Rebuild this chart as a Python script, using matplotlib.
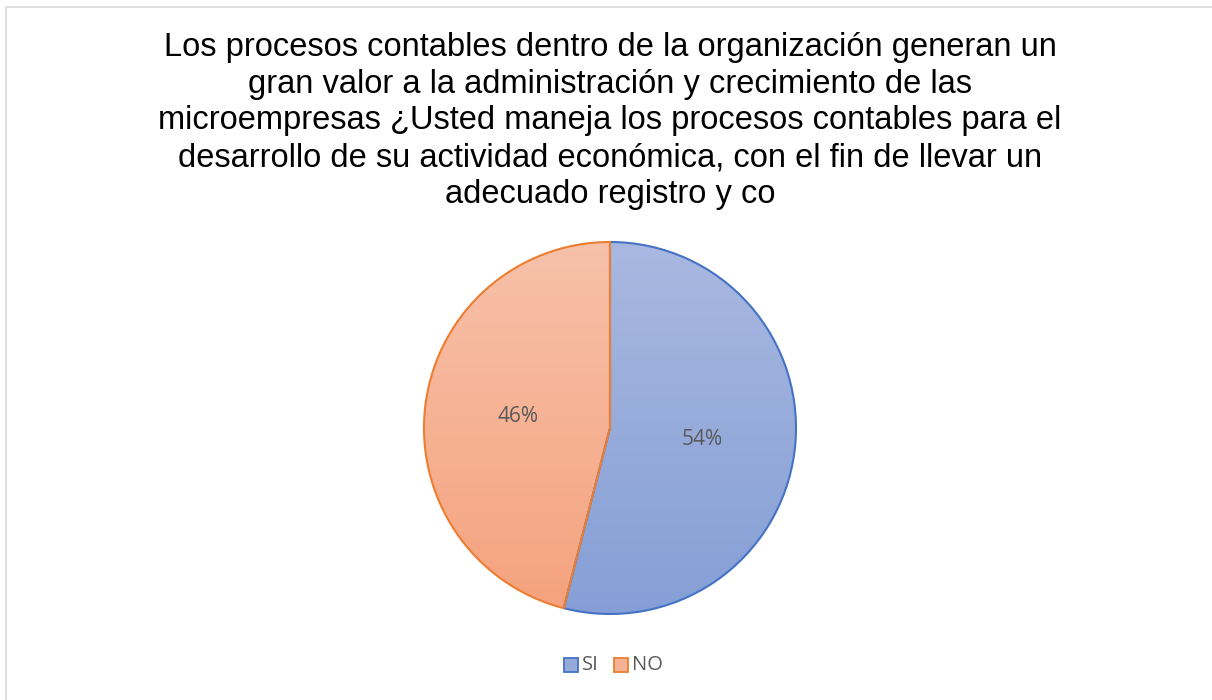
import numpy as np
import matplotlib
matplotlib.use("Agg")
import matplotlib.pyplot as plt
from matplotlib.patches import Wedge, Rectangle
from matplotlib.colors import LinearSegmentedColormap

title_lines = [
    "Los procesos contables dentro de la organización generan un",
    "gran valor a la administración y crecimiento de las",
    "microempresas ¿Usted maneja los procesos contables para el",
    "desarrollo de su actividad económica, con el fin de llevar un",
    "adecuado registro y co",
]
categories = ["SI", "NO"]
values = [54, 46]
labels = ["54%", "46%"]

edge_colors = ["#4472C4", "#ED7D31"]
grad_top = ["#A9B8E0", "#F7C1AA"]
grad_bot = ["#859FD6", "#F5A27D"]

W, H = 1212, 700
fig = plt.figure(figsize=(W / 100, H / 100), dpi=100)
fig.patch.set_facecolor("white")

# chart border
fig.add_artist(Rectangle((5.5 / W, -0.01), 1.2, (H - 6.5) / H + 0.01,
                         transform=fig.transFigure, fill=False,
                         edgecolor="#D9D9D9", linewidth=1.2))

cx, cy, R = 610, 428, 186
pad = 1.05
ax = fig.add_axes([(cx - R * pad) / W, (H - cy - R * pad) / H,
                   2 * R * pad / W, 2 * R * pad / H])
ax.set_xlim(-pad, pad)
ax.set_ylim(-pad, pad)
ax.set_aspect("equal")
ax.axis("off")

total = float(sum(values))
start = 90.0
for v, lab, ec, ct, cb, name in zip(values, labels, edge_colors, grad_top, grad_bot, categories):
    ang = 360.0 * v / total
    theta1, theta2 = start - ang, start
    cmap = LinearSegmentedColormap.from_list("g", [cb, ct])
    grad = np.linspace(0, 1, 256).reshape(-1, 1)
    im = ax.imshow(grad, extent=[-1, 1, -1, 1], origin="lower", cmap=cmap,
                   aspect="auto", zorder=1)
    w = Wedge((0, 0), 1.0, theta1, theta2, facecolor="none", edgecolor=ec,
              linewidth=1.5, zorder=2)
    ax.add_patch(w)
    im.set_clip_path(w)
    mid = np.deg2rad((theta1 + theta2) / 2)
    ax.text(0.5 * np.cos(mid), 0.5 * np.sin(mid), lab, ha="center", va="center",
            fontsize=15, color="#595959", family=["Open Sans", "DejaVu Sans"], zorder=3)
    start = theta1

# title
baselines = [56, 92.75, 129.5, 166.25, 203]
for line, yb in zip(title_lines, baselines):
    fig.text(610 / W, 1 - yb / H, line, ha="center", va="baseline",
             fontsize=23.5, family=["Liberation Sans", "DejaVu Sans"], color="black")

# legend
leg_y = 665
items = [(570.5, "SI", edge_colors[0], "#97ABDB"), (620.5, "NO", edge_colors[1], "#F6B295")]
for x0, txt, ec, fc in items:
    fig.add_artist(Rectangle(((x0 - 7) / W, 1 - (leg_y + 7) / H), 14 / W, 14 / H,
                             transform=fig.transFigure, facecolor=fc, edgecolor=ec,
                             linewidth=1.3))
    fig.text((x0 + 11) / W, 1 - leg_y / H, txt, ha="left", va="center",
             fontsize=14.5, color="#595959", family=["Open Sans", "DejaVu Sans"])

fig.savefig("out.png", dpi=100, facecolor="white")
